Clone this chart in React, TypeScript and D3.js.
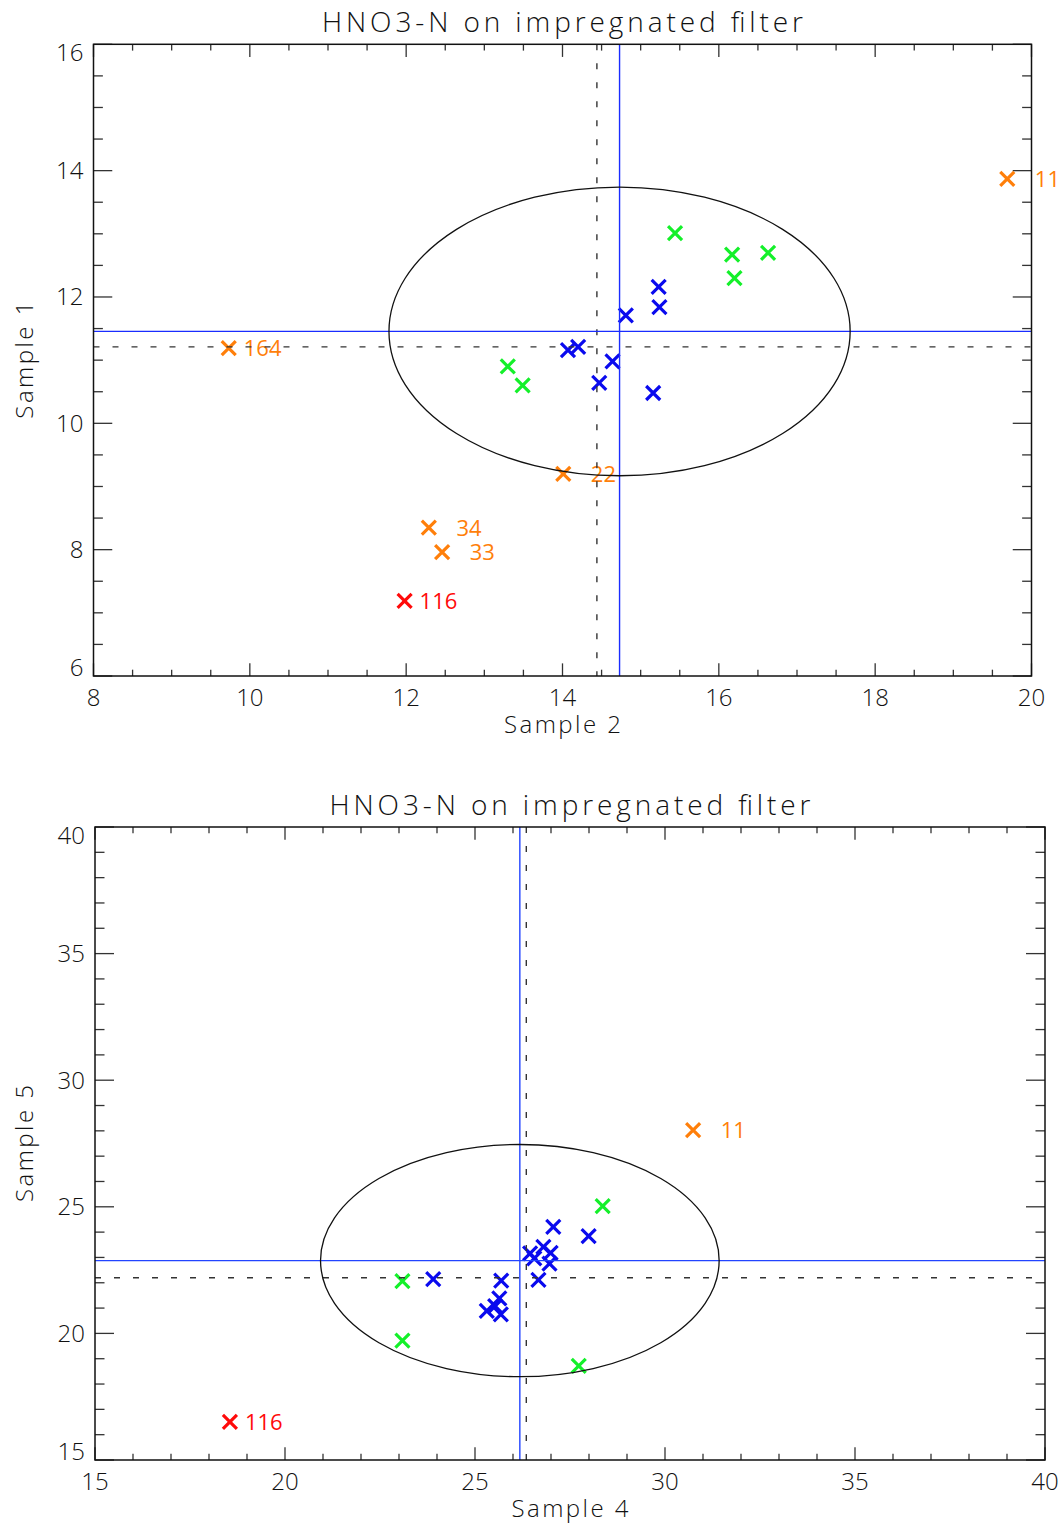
import React from "react";
import * as d3 from "d3";

// ---------- Data ----------
const TITLE = "HNO3-N on impregnated filter";

// Panel 1: Sample 2 (x) vs Sample 1 (y)
const P1_X_DOMAIN = [8, 20];
const P1_Y_DOMAIN = [6, 16];
const P1_X_MAJOR = [8, 10, 12, 14, 16, 18, 20];
const P1_Y_MAJOR = [6, 8, 10, 12, 14, 16];
const P1_X_MINOR_STEP = 0.5;
const P1_Y_MINOR_STEP = 0.5;
const P1_BLUE_X = [15.23, 15.24, 14.81, 14.07, 14.2, 14.64, 14.47, 15.16];
const P1_BLUE_Y = [12.16, 11.84, 11.71, 11.16, 11.21, 10.98, 10.64, 10.48];
const P1_GREEN_X = [15.44, 16.17, 16.63, 16.2, 13.3, 13.49];
const P1_GREEN_Y = [13.01, 12.67, 12.7, 12.3, 10.9, 10.6];
const P1_ORANGE_ID = [164, 11, 22, 34, 33];
const P1_ORANGE_X = [9.73, 19.69, 14.01, 12.29, 12.46];
const P1_ORANGE_Y = [11.19, 13.87, 9.2, 8.35, 7.96];
const P1_RED_ID = [116];
const P1_RED_X = [11.98];
const P1_RED_Y = [7.19];
const P1_MEAN = [14.73, 11.455];
const P1_MEDIAN = [14.44, 11.21];
const P1_SPREAD = [2.95, 2.285];

// Panel 2: Sample 4 (x) vs Sample 5 (y)
const P2_X_DOMAIN = [15, 40];
const P2_Y_DOMAIN = [15, 40];
const P2_X_MAJOR = [15, 20, 25, 30, 35, 40];
const P2_Y_MAJOR = [15, 20, 25, 30, 35, 40];
const P2_X_MINOR_STEP = 1;
const P2_Y_MINOR_STEP = 1;
const P2_BLUE_X = [27.06, 27.99, 23.9, 25.69, 26.67, 26.45, 26.8, 26.99, 26.56, 26.96, 25.64, 25.53, 25.31, 25.68];
const P2_BLUE_Y = [24.21, 23.84, 22.14, 22.08, 22.11, 23.16, 23.42, 23.18, 22.96, 22.76, 21.38, 21.08, 20.89, 20.75];
const P2_GREEN_X = [28.36, 23.09, 23.09, 27.73];
const P2_GREEN_Y = [25.03, 22.06, 19.71, 18.72];
const P2_ORANGE_ID = [11];
const P2_ORANGE_X = [30.74];
const P2_ORANGE_Y = [28.03];
const P2_RED_ID = [116];
const P2_RED_X = [18.55];
const P2_RED_Y = [16.51];
const P2_MEAN = [26.18, 22.875];
const P2_MEDIAN = [26.35, 22.2];
const P2_SPREAD = [5.245, 4.585];

// ---------- Style ----------
const FONT = "'Open Sans', 'DejaVu Sans', sans-serif";
const C_BLUE = "#0a0aee";
const C_GREEN = "#14f02a";
const C_ORANGE = "#ff7f0a";
const C_RED = "#ff0a0a";
const C_LINE_BLUE = "#2244ff";

type PanelProps = {
  box: { left: number; right: number; top: number; bottom: number };
  xDomain: number[];
  yDomain: number[];
  xMajor: number[];
  yMajor: number[];
  xMinorStep: number;
  yMinorStep: number;
  blueX: number[];
  blueY: number[];
  greenX: number[];
  greenY: number[];
  orangeId: number[];
  orangeX: number[];
  orangeY: number[];
  redId: number[];
  redX: number[];
  redY: number[];
  mean: number[];
  median: number[];
  spread: number[];
  xLabel: string;
  yLabel: string;
  meanColor: string;
};

function Cross({ x, y, color }: { x: number; y: number; color: string }) {
  const h = 7;
  return (
    <path
      d={`M${x - h},${y - h}L${x + h},${y + h}M${x - h},${y + h}L${x + h},${y - h}`}
      stroke={color}
      strokeWidth={3.2}
      fill="none"
      strokeLinecap="butt"
    />
  );
}

function Panel(p: PanelProps) {
  const { box } = p;
  const x = d3.scaleLinear().domain(p.xDomain).range([box.left, box.right]);
  const y = d3.scaleLinear().domain(p.yDomain).range([box.bottom, box.top]);
  const w = box.right - box.left;
  const h = box.bottom - box.top;
  const xMajLen = h * 0.02;
  const yMajLen = w * 0.02;
  const xMinor = d3.range(p.xDomain[0], p.xDomain[1] + 1e-9, p.xMinorStep);
  const yMinor = d3.range(p.yDomain[0], p.yDomain[1] + 1e-9, p.yMinorStep);
  const isMajor = (v: number, arr: number[]) => arr.some((a) => Math.abs(a - v) < 1e-9);
  const tickColor = "#333";
  const cx = (box.left + box.right) / 2;
  const cy = (box.top + box.bottom) / 2;

  const labelText = (id: number) => String(id).padStart(3, "\u2007");

  return (
    <g>
      {/* title */}
      <text x={cx} y={box.top - 12} textAnchor="middle" fontFamily={FONT} fontSize={28} fontWeight={300} fill="#111" textLength={481} lengthAdjust="spacing">
        {TITLE}
      </text>
      {/* ticks */}
      {xMinor.map((v, i) => {
        const len = isMajor(v, p.xMajor) ? xMajLen : xMajLen / 2;
        return (
          <g key={"xt" + i}>
            <line x1={x(v)} x2={x(v)} y1={box.bottom} y2={box.bottom - len} stroke={tickColor} strokeWidth={1.3} />
            <line x1={x(v)} x2={x(v)} y1={box.top} y2={box.top + len} stroke={tickColor} strokeWidth={1.3} />
          </g>
        );
      })}
      {yMinor.map((v, i) => {
        const len = isMajor(v, p.yMajor) ? yMajLen : yMajLen / 2;
        return (
          <g key={"yt" + i}>
            <line x1={box.left} x2={box.left + len} y1={y(v)} y2={y(v)} stroke={tickColor} strokeWidth={1.3} />
            <line x1={box.right} x2={box.right - len} y1={y(v)} y2={y(v)} stroke={tickColor} strokeWidth={1.3} />
          </g>
        );
      })}
      {/* tick labels */}
      {p.xMajor.map((v) => (
        <text key={"xl" + v} x={x(v)} y={box.bottom + 30} textAnchor="middle" fontFamily={FONT} fontSize={24} fontWeight={300} fill="#111">
          {v}
        </text>
      ))}
      {p.yMajor.map((v, i) => {
        const last = i === p.yMajor.length - 1;
        const first = i === 0;
        const yy = first ? y(v) : last ? y(v) + 17 : y(v) + 8.5;
        return (
          <text key={"yl" + v} x={box.left - 10} y={yy} textAnchor="end" fontFamily={FONT} fontSize={24} fontWeight={300} fill="#111">
            {v}
          </text>
        );
      })}
      {/* axis titles */}
      <text x={cx} y={box.bottom + 57} textAnchor="middle" fontFamily={FONT} fontSize={24} fontWeight={300} fill="#111" textLength={117} lengthAdjust="spacing">
        {p.xLabel}
      </text>
      <text transform={`translate(33,${cy}) rotate(-90)`} textAnchor="middle" fontFamily={FONT} fontSize={24} fontWeight={300} fill="#111" textLength={117} lengthAdjust="spacing">
        {p.yLabel}
      </text>
      {/* points */}
      {p.greenX.map((v, i) => (
        <Cross key={"g" + i} x={x(v)} y={y(p.greenY[i])} color={C_GREEN} />
      ))}
      {p.blueX.map((v, i) => (
        <Cross key={"b" + i} x={x(v)} y={y(p.blueY[i])} color={C_BLUE} />
      ))}
      {p.orangeX.map((v, i) => (
        <g key={"o" + i}>
          <Cross x={x(v)} y={y(p.orangeY[i])} color={C_ORANGE} />
          <text x={x(v) + 15} y={y(p.orangeY[i]) + 8} fontFamily={FONT} fontSize={22} fill={C_ORANGE} style={{ whiteSpace: "pre" }}>
            {labelText(p.orangeId[i])}
          </text>
        </g>
      ))}
      {p.redX.map((v, i) => (
        <g key={"r" + i}>
          <Cross x={x(v)} y={y(p.redY[i])} color={C_RED} />
          <text x={x(v) + 15} y={y(p.redY[i]) + 8} fontFamily={FONT} fontSize={22} fill={C_RED} style={{ whiteSpace: "pre" }}>
            {labelText(p.redId[i])}
          </text>
        </g>
      ))}
      {/* mean/median lines */}
      <line x1={box.left} x2={box.right} y1={y(p.median[1])} y2={y(p.median[1])} stroke="#333" strokeWidth={1.4} strokeDasharray="6,13" />
      <line x1={x(p.median[0])} x2={x(p.median[0])} y1={box.top} y2={box.bottom} stroke="#333" strokeWidth={1.4} strokeDasharray="6,13" />
      <line x1={box.left} x2={box.right} y1={y(p.mean[1])} y2={y(p.mean[1])} stroke={p.meanColor} strokeWidth={1.4} />
      <line x1={x(p.mean[0])} x2={x(p.mean[0])} y1={box.top} y2={box.bottom} stroke={p.meanColor} strokeWidth={1.4} />
      {/* ellipse */}
      <ellipse
        cx={x(p.mean[0])}
        cy={y(p.mean[1])}
        rx={x(p.mean[0] + p.spread[0]) - x(p.mean[0])}
        ry={y(p.mean[1]) - y(p.mean[1] + p.spread[1])}
        fill="none"
        stroke="#111"
        strokeWidth={1.3}
      />
      {/* frame */}
      <rect x={box.left} y={box.top} width={w} height={h} fill="none" stroke="#111" strokeWidth={1.5} />
    </g>
  );
}

export default function App() {
  return (
    <svg width={1063} height={1526} style={{ position: "absolute", left: 0, top: 0, background: "#fff" }}>
      <rect x={0} y={0} width={1063} height={1526} fill="#fff" />
      <Panel
        box={{ left: 93.5, right: 1031.5, top: 44.3, bottom: 676 }}
        xDomain={P1_X_DOMAIN}
        yDomain={P1_Y_DOMAIN}
        xMajor={P1_X_MAJOR}
        yMajor={P1_Y_MAJOR}
        xMinorStep={P1_X_MINOR_STEP}
        yMinorStep={P1_Y_MINOR_STEP}
        blueX={P1_BLUE_X}
        blueY={P1_BLUE_Y}
        greenX={P1_GREEN_X}
        greenY={P1_GREEN_Y}
        orangeId={P1_ORANGE_ID}
        orangeX={P1_ORANGE_X}
        orangeY={P1_ORANGE_Y}
        redId={P1_RED_ID}
        redX={P1_RED_X}
        redY={P1_RED_Y}
        mean={P1_MEAN}
        median={P1_MEDIAN}
        spread={P1_SPREAD}
        xLabel="Sample 2"
        yLabel="Sample 1"
        meanColor="#1a2cff"
      />
      <Panel
        box={{ left: 95, right: 1045, top: 827, bottom: 1460 }}
        xDomain={P2_X_DOMAIN}
        yDomain={P2_Y_DOMAIN}
        xMajor={P2_X_MAJOR}
        yMajor={P2_Y_MAJOR}
        xMinorStep={P2_X_MINOR_STEP}
        yMinorStep={P2_Y_MINOR_STEP}
        blueX={P2_BLUE_X}
        blueY={P2_BLUE_Y}
        greenX={P2_GREEN_X}
        greenY={P2_GREEN_Y}
        orangeId={P2_ORANGE_ID}
        orangeX={P2_ORANGE_X}
        orangeY={P2_ORANGE_Y}
        redId={P2_RED_ID}
        redX={P2_RED_X}
        redY={P2_RED_Y}
        mean={P2_MEAN}
        median={P2_MEDIAN}
        spread={P2_SPREAD}
        xLabel="Sample 4"
        yLabel="Sample 5"
        meanColor={C_LINE_BLUE}
      />
    </svg>
  );
}
